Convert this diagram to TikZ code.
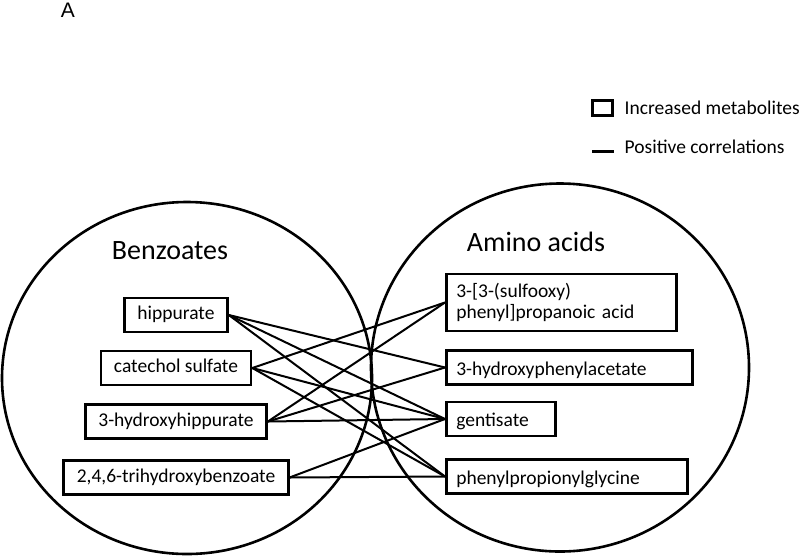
\documentclass[tikz,border=0pt]{standalone}
\usepackage{fontspec}
\setmainfont{Carlito}
\newfontfamily\panelfont{Liberation Sans}
\usepackage{tikz}
\usetikzlibrary{positioning}

\begin{document}
\begin{tikzpicture}[x=1pt, y=-1pt, thick,
    metab/.style={draw, line width=2.6pt, minimum height=34pt, inner xsep=13pt,
        text height=14pt, text depth=4.5pt, font=\fontsize{19.5}{23}\selectfont},
    rmetab/.style={metab, anchor=west, inner xsep=10pt, align=left,
        text height=17pt, text depth=2pt},
    corr/.style={line width=2pt},
    group/.style={font=\fontsize{28}{33}\selectfont}]
    \useasboundingbox (0,0) rectangle (800,555);

    % Panel letter
    \node[font=\panelfont\fontsize{21}{25}\selectfont] (panel) at (68,10) {A};

    % Groups
    \draw[line width=2.6pt] (187,378) ellipse [x radius=185, y radius=176];
    \draw[line width=2.6pt] (560,367.5) ellipse [x radius=189, y radius=184];
    \node[group] (benz) at (170,251) {Benzoates};
    \node[group] (amino) at (536,242) {Amino acids};

    % Benzoates
    \node[metab] (hip) at (176,315) {hippurate};
    \node[metab] (cat) at (176,368) {catechol sulfate};
    \node[metab] (hhip) at (176,421.5) {3-hydroxyhippurate};
    \node[metab] (tri) at (176,477.5) {2,4,6-trihydroxybenzoate};

    % Amino acids
    \node[rmetab, text height=, text depth=, minimum height=57pt, text width=210pt,
        font=\fontsize{19.5}{21.5}\selectfont]
        (sulf) at (445,302.5) {3-[3-(sulfooxy)\\phenyl]propanoic acid};
    \node[rmetab, text width=226pt] (hpa) at (445,367.5) {3-hydroxyphenylacetate};
    \node[rmetab, text width=89pt] (gen) at (445,419) {gentisate};
    \node[rmetab, text width=221pt] (ppg) at (445,476.5) {phenylpropionylglycine};

    % Correlations
    \foreach \a/\b in {hip/hpa, hip/gen, hip/ppg, cat/sulf, cat/gen, cat/ppg,
                       hhip/sulf, hhip/hpa, hhip/gen, tri/gen, tri/ppg}
        \draw[corr] (\a.east) -- (\b.west);

    % Legend
    \node[draw, line width=3pt, minimum width=20pt, minimum height=15pt] (keybox) at (602.5,108) {};
    \node[anchor=west, font=\fontsize{19.5}{23}\selectfont] (keyinc) at (621,108) {Increased metabolites};
    \coordinate (dasha) at (592,151);
    \coordinate (dashb) at (614,151);
    \draw[line width=3pt] (dasha) -- (dashb);
    \node[anchor=west, font=\fontsize{19.5}{23}\selectfont] (keypos) at (621,147) {Positive correlations};
\end{tikzpicture}
\end{document}
